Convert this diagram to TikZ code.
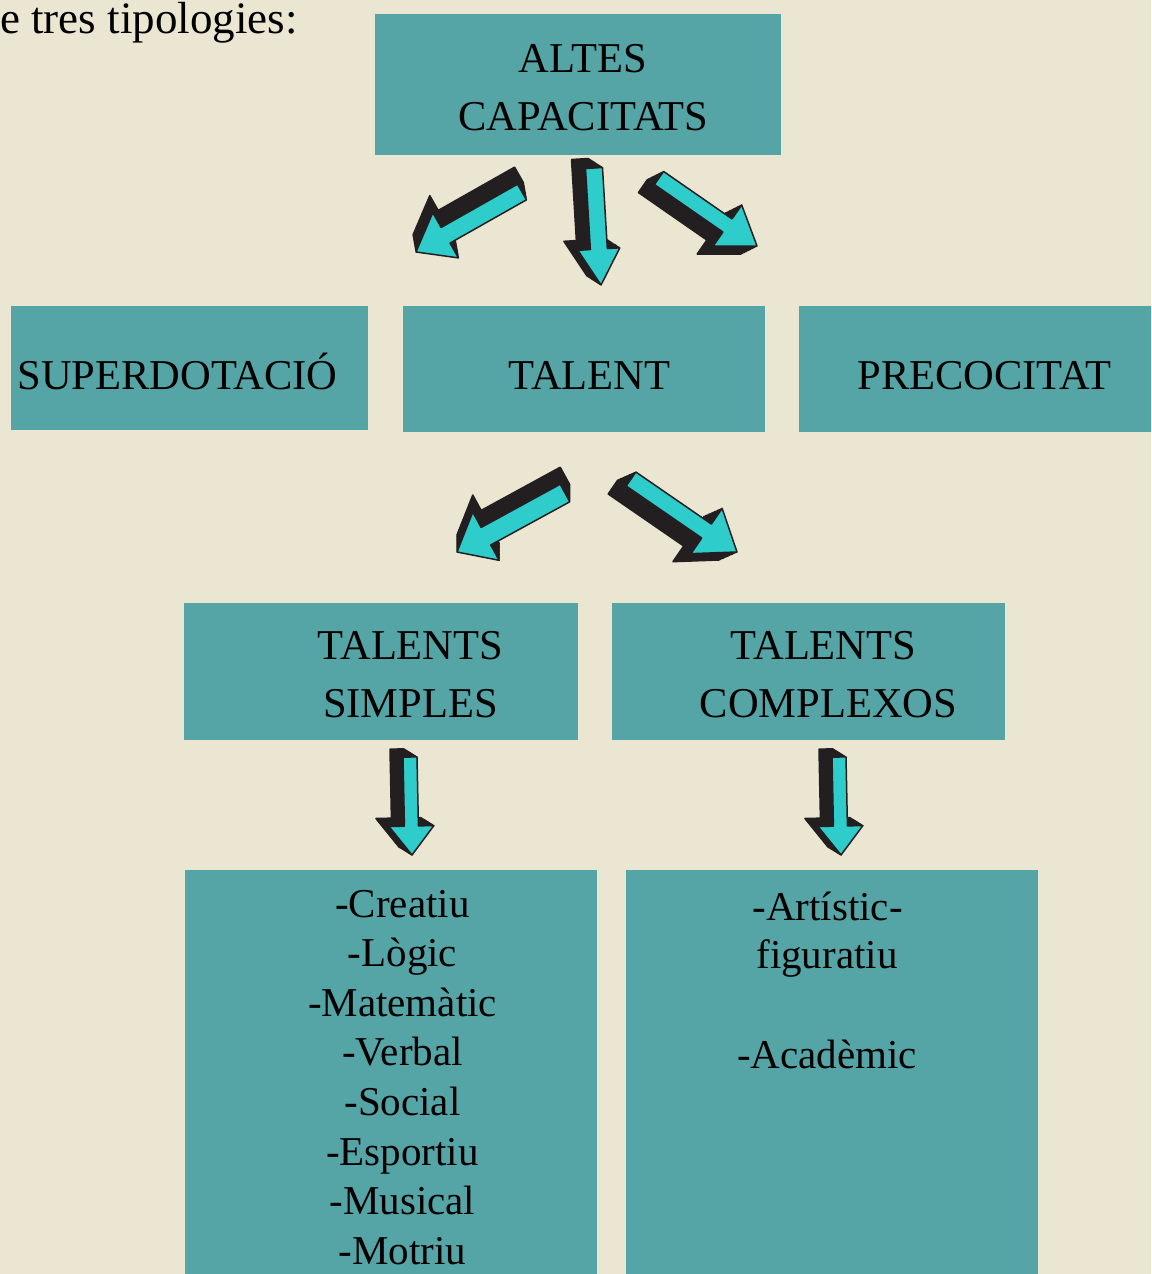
\documentclass[tikz,border=0pt]{standalone}
\usepackage{fontspec}
\setmainfont{Liberation Serif}
\usetikzlibrary{calc}

\definecolor{fons}{HTML}{EBE6D2}
\definecolor{verdblau}{HTML}{55A4A6}
\definecolor{cian}{HTML}{2ECCCB}
\definecolor{fosc}{HTML}{231F20}

\tikzset{
  caixa/.style={fill=verdblau, inner sep=0pt, outer sep=0pt},
  lletra/.style={font=\fontsize{41}{50}\selectfont, inner sep=0pt, anchor=base, text=black},
  titol/.style={lletra, font=\fontsize{42.5}{50}\selectfont},
}

\newcommand{\formafletxa}[6]{%
  \coordinate (n) at ($(#3)!#6pt!(#2)$);
  \path[#1] ($(#2)!#4pt!90:(#3)$) -- ($(n)!#4pt!90:(#3)$) -- ($(n)!#5pt!90:(#3)$) -- (#3)
    -- ($(n)!#5pt!-90:(#3)$) -- ($(n)!#4pt!-90:(#3)$) -- ($(#2)!#4pt!-90:(#3)$) -- cycle;}

\newcommand{\fletxa}[8]{%
  \coordinate (#1-cua) at (#2);
  \coordinate (#1-punta) at (#3);
  \foreach \k in {12,...,1}{
    \coordinate (tmpc) at ($(#1-cua)+({\k/12*(#7)},{\k/12*(#8)})$);
    \coordinate (tmpp) at ($(#1-punta)+({\k/12*(#7)},{\k/12*(#8)})$);
    \formafletxa{fill=fosc, draw=fosc, line width=1.5pt, line join=round}{tmpc}{tmpp}{#4}{#5}{#6}
  }
  \formafletxa{fill=cian, draw=fosc, line width=1.5pt, line join=round}{#1-cua}{#1-punta}{#4}{#5}{#6}}

\begin{document}
\begin{tikzpicture}[x=1pt, y=-1pt]

\fill[fons] (0,0) rectangle (1151,1274);
\useasboundingbox (0,0) rectangle (1151,1274);

\node[lletra, font=\fontsize{45}{50}\selectfont, anchor=base west] (intro) at (0,33) {e tres tipologies:};

\node[caixa, minimum width=406pt, minimum height=141pt] (altes) at (578,84.5) {};
\node[titol] (altes-1) at (583,72) {ALTES};
\node[titol] (altes-2) at (583.5,130) {CAPACITATS};

\node[caixa, minimum width=357pt, minimum height=124pt] (superdotacio) at (189.5,368) {};
\node[caixa, minimum width=362pt, minimum height=126pt] (talent) at (584,369) {};
\node[caixa, minimum width=352pt, minimum height=126pt] (precocitat) at (975,369) {};
\node[titol] (superdotacio-t) at (177.5,389) {SUPERDOTACIÓ};
\node[titol] (talent-t) at (589.5,389) {TALENT};
\node[titol] (precocitat-t) at (984.5,389) {PRECOCITAT};

\node[caixa, minimum width=394pt, minimum height=137pt] (simples) at (381,671.5) {};
\node[caixa, minimum width=393pt, minimum height=137pt] (complexos) at (808.5,671.5) {};
\node[titol] (simples-1) at (410.5,659) {TALENTS};
\node[titol] (simples-2) at (410.5,717) {SIMPLES};
\node[titol] (complexos-1) at (823.5,659) {TALENTS};
\node[titol] (complexos-2) at (828.5,717) {COMPLEXOS};

\node[caixa, minimum width=412pt, minimum height=404pt, anchor=north west] (llista-s) at (185,870) {};
\node[caixa, minimum width=412pt, minimum height=404pt, anchor=north west] (llista-c) at (626,870) {};

\foreach \t [count=\i from 0] in {-Creatiu,-Lògic,-Matemàtic,-Verbal,-Social,-Esportiu,-Musical,-Motriu}
  \node[lletra] (simple-\i) at (402.5,{917+49.6*\i}) {\t};

\node[lletra] (complex-1) at (827.5,920) {-Artístic-};
\node[lletra] (complex-2) at (827,968) {figuratiu};
\node[lletra] (complex-3) at (827,1068) {-Acadèmic};

\fletxa{a}{522,192}{416,252}{9}{26}{34}{-3}{-17}
\fletxa{b}{594,168}{601,285}{8.5}{21}{36}{-14}{-9}
\fletxa{c}{659,178}{757,246}{8}{25}{36}{-16}{8}
\fletxa{d}{565,493}{457,552}{10}{27.5}{33}{0}{-17}
\fletxa{e}{631,479}{737,552}{8.5}{27.5}{37}{-18}{8}
\fletxa{f}{410,757}{412,855}{7}{22.5}{29}{-13}{-8}
\fletxa{g}{839,757}{841,855}{7}{22.5}{29}{-13}{-8}

\end{tikzpicture}
\end{document}
